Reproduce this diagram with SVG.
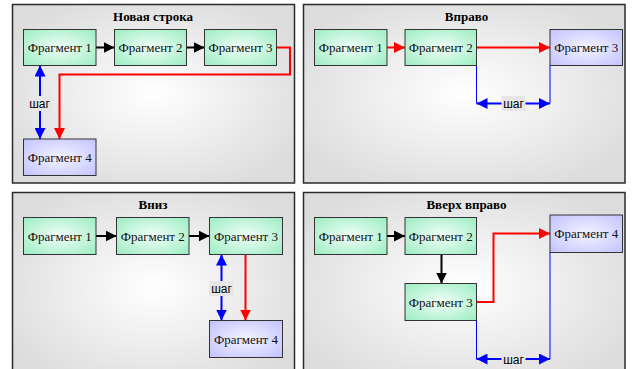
<svg xmlns="http://www.w3.org/2000/svg" width="634" height="369" viewBox="0 0 634 369">
  <defs>
    <radialGradient id="panelFill" cx="0.5" cy="0.5" r="0.6">
      <stop offset="0" stop-color="#ffffff"/>
      <stop offset="1" stop-color="#dcdcdc"/>
    </radialGradient>
    <radialGradient id="greenFill" cx="0.5" cy="0.5" r="0.7">
      <stop offset="0" stop-color="#f2fff8"/>
      <stop offset="1" stop-color="#9cecc2"/>
    </radialGradient>
    <radialGradient id="blueFill" cx="0.5" cy="0.5" r="0.7">
      <stop offset="0" stop-color="#f4f4ff"/>
      <stop offset="1" stop-color="#c2c2ff"/>
    </radialGradient>
    <marker id="headBlack" markerUnits="userSpaceOnUse" markerWidth="12" markerHeight="11" refX="11" refY="5.5" orient="auto-start-reverse">
      <path d="M0,0 L11,5.5 L0,11 z" fill="#000"/>
    </marker>
    <marker id="headRed" markerUnits="userSpaceOnUse" markerWidth="12" markerHeight="11" refX="11" refY="5.5" orient="auto-start-reverse">
      <path d="M0,0 L11,5.5 L0,11 z" fill="#ff0000"/>
    </marker>
    <marker id="headBlue" markerUnits="userSpaceOnUse" markerWidth="12" markerHeight="11" refX="11" refY="5.5" orient="auto-start-reverse">
      <path d="M0,0 L11,5.5 L0,11 z" fill="#0000ff"/>
    </marker>
  </defs>
  <style>
    .panel { fill: url(#panelFill); stroke: #2b2b2b; stroke-width: 1.5; }
    .title { font-family: "Liberation Serif", "Times New Roman", serif; font-size: 13px; font-weight: bold; text-anchor: middle; fill: #000; }
    .frag rect { stroke: #333; stroke-width: 1; }
    .green rect { fill: url(#greenFill); }
    .lav rect { fill: url(#blueFill); }
    .frag text { font-family: "Liberation Serif", "Times New Roman", serif; font-size: 13px; text-anchor: middle; fill: #111; }
    .flow { fill: none; stroke: #000; stroke-width: 2; marker-end: url(#headBlack); }
    .jump { fill: none; stroke: #ff0000; stroke-width: 2; marker-end: url(#headRed); }
    .step { fill: none; stroke: #0000ff; stroke-width: 2; marker-start: url(#headBlue); marker-end: url(#headBlue); }
    .guide { fill: none; stroke: #0000ff; stroke-width: 1; }
    .tag rect { fill: #e6e6e6; }
    .tag text { font-family: "Liberation Sans", Arial, sans-serif; font-size: 12px; text-anchor: middle; fill: #000; }
  </style>

  <!-- Panels -->
  <g id="panels">
    <rect class="panel" x="12.5" y="4.5" width="282" height="178.5"/>
    <rect class="panel" x="303.5" y="4.5" width="321.5" height="178.5"/>
    <rect class="panel" x="12.5" y="192.5" width="282" height="190"/>
    <rect class="panel" x="303.5" y="192.5" width="321.5" height="190"/>
    <text class="title" x="153" y="20.5">Новая строка</text>
    <text class="title" x="466.5" y="20.5">Вправо</text>
    <text class="title" x="153" y="208.5">Вниз</text>
    <text class="title" x="466.5" y="208.5">Вверх вправо</text>
  </g>

  <!-- Connectors -->
  <g id="connectors">
    <!-- Новая строка -->
    <path class="flow" d="M96,47.5 H114.5"/>
    <path class="flow" d="M186.5,47.5 H204.5"/>
    <path class="jump" d="M276.5,47.5 H290 V74.5 H59.5 V139"/>
    <path class="step" d="M40,65.5 V139"/>
    <!-- Вправо -->
    <path class="jump" d="M387,47.5 H405"/>
    <path class="jump" d="M476.5,47.5 H550"/>
    <path class="guide" d="M476.5,65.5 V103.5 M550,65.5 V103.5"/>
    <path class="step" d="M476.5,103.5 H550"/>
    <!-- Вниз -->
    <path class="flow" d="M96,236 H116.5"/>
    <path class="flow" d="M189,236 H209.5"/>
    <path class="step" d="M221.5,254.5 V320.5"/>
    <path class="jump" d="M245.5,254.5 V320.5"/>
    <!-- Вверх вправо -->
    <path class="flow" d="M387,236 H405"/>
    <path class="flow" d="M441.5,254.5 V283.5"/>
    <path class="jump" d="M476.5,302 H493.5 V233.5 H550"/>
    <path class="guide" d="M476.5,320.5 V359 M550,252.5 V359"/>
    <path class="step" d="M476.5,359 H550"/>
  </g>

  <!-- Step labels -->
  <g id="labels">
    <g class="tag"><rect x="27.5" y="96" width="24" height="15"/><text x="39.5" y="108">шаг</text></g>
    <g class="tag"><rect x="501.5" y="96" width="24" height="15"/><text x="513.5" y="108">шаг</text></g>
    <g class="tag"><rect x="209.5" y="281" width="24" height="15"/><text x="221.5" y="293">шаг</text></g>
    <g class="tag"><rect x="501.5" y="351.5" width="24" height="15"/><text x="513.5" y="363.5">шаг</text></g>
  </g>

  <!-- Новая строка nodes -->
  <g id="p1-frag1" class="frag green"><rect x="23.5" y="29.5" width="72.5" height="36"/><text x="59.75" y="52">Фрагмент 1</text></g>
  <g id="p1-frag2" class="frag green"><rect x="114.5" y="29.5" width="72" height="36"/><text x="150.5" y="52">Фрагмент 2</text></g>
  <g id="p1-frag3" class="frag green"><rect x="204.5" y="29.5" width="72" height="36"/><text x="240.5" y="52">Фрагмент 3</text></g>
  <g id="p1-frag4" class="frag lav"><rect x="23.5" y="139" width="72.5" height="36.5"/><text x="59.75" y="161.5">Фрагмент 4</text></g>

  <!-- Вправо nodes -->
  <g id="p2-frag1" class="frag green"><rect x="314.5" y="29.5" width="72.5" height="36"/><text x="350.75" y="52">Фрагмент 1</text></g>
  <g id="p2-frag2" class="frag green"><rect x="405" y="29.5" width="71.5" height="36"/><text x="440.75" y="52">Фрагмент 2</text></g>
  <g id="p2-frag3" class="frag lav"><rect x="550" y="29.5" width="72.5" height="36"/><text x="586.25" y="52">Фрагмент 3</text></g>

  <!-- Вниз nodes -->
  <g id="p3-frag1" class="frag green"><rect x="23.5" y="217.5" width="72.5" height="37"/><text x="59.75" y="240.5">Фрагмент 1</text></g>
  <g id="p3-frag2" class="frag green"><rect x="116.5" y="217.5" width="72.5" height="37"/><text x="152.75" y="240.5">Фрагмент 2</text></g>
  <g id="p3-frag3" class="frag green"><rect x="209.5" y="217.5" width="73" height="37"/><text x="246" y="240.5">Фрагмент 3</text></g>
  <g id="p3-frag4" class="frag lav"><rect x="209.5" y="320.5" width="73" height="37"/><text x="246" y="343.5">Фрагмент 4</text></g>

  <!-- Вверх вправо nodes -->
  <g id="p4-frag1" class="frag green"><rect x="314.5" y="217.5" width="72.5" height="37"/><text x="350.75" y="240.5">Фрагмент 1</text></g>
  <g id="p4-frag2" class="frag green"><rect x="405" y="217.5" width="71.5" height="37"/><text x="440.75" y="240.5">Фрагмент 2</text></g>
  <g id="p4-frag3" class="frag green"><rect x="405" y="283.5" width="71.5" height="37"/><text x="440.75" y="306.5">Фрагмент 3</text></g>
  <g id="p4-frag4" class="frag lav"><rect x="550" y="215" width="72.5" height="37.5"/><text x="586.25" y="238">Фрагмент 4</text></g>
</svg>
